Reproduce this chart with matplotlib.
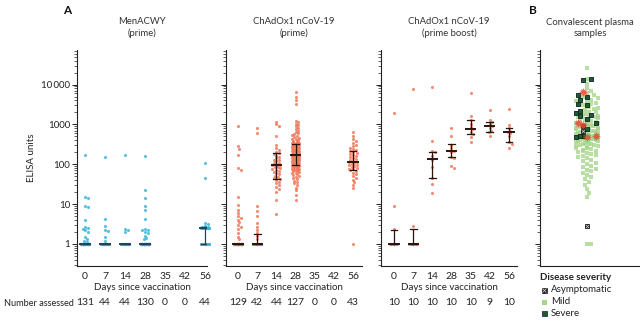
import numpy as np
import matplotlib
matplotlib.use("Agg")
import matplotlib.pyplot as plt
from matplotlib.ticker import LogLocator, NullFormatter, FixedLocator, FixedFormatter

plt.rcParams['font.family'] = ['Lato', 'DejaVu Sans']
plt.rcParams['font.size'] = 7

# ---------------- data ----------------
days = ["0", "7", "14", "28", "35", "42", "56"]

menacwy_n = [131, 44, 44, 130, 0, 0, 44]
menacwy = [
    [172, 15, 14, 9, 8.5, 4, 2.7, 2.5, 2.4, 2.2, 2.0, 1.5, 1.3, 1.2, 1.1] + [1.0] * 116,
    [155, 4.2, 2.8, 2.2, 2.1, 1.5, 1.2] + [1.0] * 37,
    [172, 2.4, 2.3, 2.0] + [1.0] * 40,
    [165, 22, 14.5, 9, 7.2, 4.3, 2.4, 2.3, 2.2, 2.0, 1.9, 1.6, 1.4, 1.3] + [1.0] * 116,
    [],
    [],
    [107, 45, 3.3, 3.1, 2.8, 2.7, 2.6, 2.6] + [2.5] * 18 + [1.0] * 18,
]
menacwy_med = [1, 1, 1, 1, np.nan, np.nan, 2.5]
menacwy_q1 = [1, 1, 1, 1, np.nan, np.nan, 1]
menacwy_q3 = [1, 1, 1, 1, np.nan, np.nan, 2.6]

prime_n = [129, 42, 44, 127, 0, 0, 43]
prime = [
    [940, 280, 245, 175, 80, 72, 15.5, 9.5, 7, 6, 5, 4.5, 4, 3.5, 3, 2.7, 2.4, 1.9,
     1.5, 1.3] + [1.0] * 109,
    [830, 600, 9, 6.8, 5, 3.4, 2.7, 2.2, 1.86, 1.6, 1.3] + [1.0] * 31,
    [1180, 1000, 900, 520, 310, 260, 230, 200, 190, 180, 165, 150, 140, 130, 125,
     118, 110, 105, 100, 97, 95, 92, 88, 84, 80, 76, 72, 68, 64, 60, 56, 52, 48,
     45, 43, 40, 37, 34, 30, 27, 24, 20, 12.7, 5.6],
    [6700, 5000, 4200, 3300, 1250, 1150, 1050, 980, 900, 820, 760, 700, 640, 600,
     560, 530, 500, 480, 460, 440, 420, 400, 390, 380, 370, 360, 350, 345, 340,
     330, 325,
     320, 310, 300, 295, 290, 280, 275, 270, 260, 255, 250, 245, 240, 235, 230,
     225, 220, 215, 210, 205, 200, 196, 192, 188, 185, 182, 180, 178, 176, 175,
     174, 173,
     172, 170, 168, 165, 162, 160, 157, 155, 152, 150, 147, 145, 142, 140, 137,
     135, 132, 130, 127, 125, 122, 120, 117, 115, 112, 110, 107, 105, 102, 100,
     98, 96,
     94, 92, 90, 88, 86, 84, 82, 80, 78, 76, 74, 72, 70, 68, 66, 64, 62, 60, 57,
     54, 51, 48, 45, 42, 39, 36, 33, 30, 26, 22, 17, 13],
    [],
    [],
    [630, 500, 420, 380, 340, 300, 280, 260, 240, 225, 217, 205, 195, 185, 175,
     165, 155, 145, 135, 128, 122, 117, 112, 107, 102, 98, 94, 90, 86, 82, 78, 75,
     72, 68, 62, 56, 50, 45, 40, 35, 30, 25, 1],
]
prime_med = [1, 1, 96, 172, np.nan, np.nan, 117]
prime_q1 = [1, 1, 44, 96, np.nan, np.nan, 72]
prime_q3 = [1, 1.8, 190, 320, np.nan, np.nan, 217]

boost_n = [10, 10, 10, 10, 10, 9, 10]
boost = [
    [1900, 9, 2.4] + [1.0] * 7,
    [7700, 2.8] + [1.0] * 8,
    [8900, 390, 215, 200, 160, 130, 85, 45, 32, 19.5],
    [830, 520, 300, 250, 220, 200, 150, 140, 91, 81],
    [6100, 1650, 1300, 1000, 850, 760, 650, 580, 480, 370],
    [2340, 1300, 1150, 1000, 920, 800, 700, 640, 520],
    [2400, 980, 810, 700, 640, 600, 500, 360, 320, 255],
]
boost_med = [1, 1, 137, 220, 760, 920, 640]
boost_q1 = [1, 1, 46, 150, 580, 640, 360]
boost_q3 = [2.25, 2.35, 208, 320, 1310, 1180, 810]

conv_mild = [26000, 14000, 10500, 8000, 7000, 6200, 5500, 5000, 4500, 4200, 3900,
             3600, 3400, 3200, 3000, 2800, 2650, 2500, 2350, 2200, 2100, 2000,
             1900, 1800, 1750, 1700, 1650, 1600, 1550, 1500, 1450, 1400, 1350,
             1300, 1250, 1200, 1150, 1100, 1060, 1020, 980, 950, 920, 890, 860,
             830, 800, 780, 760, 740, 720, 700, 680, 660, 640, 620, 600, 585, 570,
             555, 540, 525, 510, 495, 480, 465, 450, 440, 430, 420, 410, 400, 390,
             380, 370, 360, 350, 340, 330, 320, 310, 300, 290, 280, 270, 260, 250,
             240, 230, 220, 210, 200, 190, 180, 170, 160, 150, 140, 130, 120, 110,
             100, 92, 85, 78, 72, 66, 60, 54, 48, 42, 36, 30, 24, 19, 15, 1, 1]
conv_severe = [13500, 13000, 5500, 4800, 4000, 3300, 3000, 2200, 1900, 1700,
               1600, 1400, 1100, 900, 750, 520, 500, 480]
conv_asymp = [2.8, 700]
conv_star = [6700, 1100, 950, 500, 480]

# ---------------- layout ----------------
W, H = 640, 322
fig = plt.figure(figsize=(W / 100, H / 100), dpi=100)

def fx(px):
    return px / W

def fy(py):
    return 1 - py / H

bottom_px, top_px = 266, 50
panels_px = [(77, 207), (226, 362), (381, 517)]
xlims = [(-0.41, 6.1), (-0.63, 6.47), (-0.68, 6.42)]
YLIM = (0.28, 74000)
PX_PER_DEC = (bottom_px - top_px) / np.log10(YLIM[1] / YLIM[0])

axes = []
for (l, r) in panels_px:
    axes.append(fig.add_axes([fx(l), fy(bottom_px), (r - l) / W,
                              (bottom_px - top_px) / H]))
axB = fig.add_axes([fx(540), fy(bottom_px), 100 / W, (bottom_px - top_px) / H])


def swarm(vals, px_per_x, d=2.6, maxw=5.0):
    """Deterministic beeswarm offsets (in x data units)."""
    vals = np.asarray(vals, float)
    if len(vals) == 0:
        return np.array([])
    y = np.log10(vals) * PX_PER_DEC
    step = d / 2
    cands = [0.0]
    k = 1
    while k * step <= maxw:
        cands += [k * step, -k * step]
        k += 1
    placed_x, placed_y = [], []
    off = np.zeros(len(vals))
    for n, i in enumerate(np.argsort(-y, kind="stable")):
        choice = None
        px_arr = np.array(placed_x)
        py_arr = np.array(placed_y)
        for c in cands:
            if len(px_arr) == 0 or np.all((px_arr - c) ** 2 + (py_arr - y[i]) ** 2 >= d * d):
                choice = c
                break
        if choice is None:
            choice = cands[n % len(cands)]
        off[i] = choice
        placed_x.append(choice)
        placed_y.append(y[i])
    return off / px_per_x


def style_axis(ax, show_labels):
    ax.set_yscale('log')
    ax.set_ylim(*YLIM)
    for s in ('top', 'right'):
        ax.spines[s].set_visible(False)
    for s in ('left', 'bottom'):
        ax.spines[s].set_linewidth(0.8)
        ax.spines[s].set_color('#222222')
    ax.yaxis.set_minor_locator(LogLocator(base=10, subs=np.arange(2, 10), numticks=20))
    ax.yaxis.set_minor_formatter(NullFormatter())
    ax.tick_params(axis='y', which='major', length=3.5, width=0.7, colors='#222222',
                   labelsize=7, pad=1.5)
    ax.tick_params(axis='y', which='minor', length=2, width=0.5, colors='#222222')
    ax.yaxis.set_major_locator(FixedLocator([1, 10, 100, 1000, 10000]))
    if show_labels:
        ax.yaxis.set_major_formatter(FixedFormatter(["1", "10", "100", "1000",
                                                     "10\u2009000"]))
    else:
        ax.yaxis.set_major_formatter(NullFormatter())
    ax.set_facecolor('none')


def draw_group(ax, data, med, q1, q3, counts, col, bar_col, xl, px_per_x, title):
    style_axis(ax, ax is axes[0])
    for i, vals in enumerate(data):
        if not vals:
            continue
        off = swarm(vals, px_per_x)
        ax.scatter(i + off, vals, s=5, color=col, alpha=0.85, linewidths=0,
                   zorder=2, clip_on=False)
    for i in range(len(days)):
        if np.isnan(med[i]):
            continue
        ax.plot([i, i], [q1[i], q3[i]], color=bar_col, lw=0.9, zorder=3)
        for q in (q1[i], q3[i]):
            ax.plot([i - 0.18, i + 0.18], [q, q], color=bar_col, lw=0.9, zorder=3)
        ax.plot([i - 0.24, i + 0.24], [med[i], med[i]], color=bar_col, lw=1.4, zorder=3)
    ax.set_xlim(*xl)
    ax.set_xticks(range(len(days)))
    ax.set_xticklabels(days)
    ax.tick_params(axis='x', length=0, labelsize=7.5, pad=4, colors='#222222')
    ax.set_xlabel("Days since vaccination", fontsize=7, labelpad=2, color='#222222')
    for i, c in enumerate(counts):
        ax.text(i, -0.171, str(c), transform=ax.get_xaxis_transform(),
                ha='center', va='center', fontsize=7.5, color='#222222')
    ax.set_title(title, fontsize=6.8, color='#333333', pad=10, linespacing=1.3)


cyan = '#3cb6d6'
orange = '#f0795a'
draw_group(axes[0], menacwy, menacwy_med, menacwy_q1, menacwy_q3, menacwy_n,
           cyan, '#18465e', xlims[0], 19.67, "MenACWY\n(prime)")
draw_group(axes[1], prime, prime_med, prime_q1, prime_q3, prime_n,
           orange, '#2a120c', xlims[1], 19.17, "ChAdOx1 nCoV-19\n(prime)")
draw_group(axes[2], boost, boost_med, boost_q1, boost_q3, boost_n,
           orange, '#2a120c', xlims[2], 19.17, "ChAdOx1 nCoV-19\n(prime boost)")
axes[0].set_ylabel("ELISA units", fontsize=7, labelpad=4, color='#222222')

# ---------------- convalescent plasma ----------------
style_axis(axB, False)
axB.set_xlim(-47, 53)
axB.set_xticks([])
axB.set_title("Convalescent plasma\nsamples", fontsize=6.8, color='#333333',
              pad=10, linespacing=1.3)

groups = [("mild", conv_mild), ("severe", conv_severe), ("asymp", conv_asymp),
          ("star", conv_star)]
all_vals = np.concatenate([np.asarray(v, float) for _, v in groups])
all_off = swarm(all_vals, 1.0, d=4.4, maxw=12)
start = 0
offs = {}
for name, v in groups:
    offs[name] = all_off[start:start + len(v)]
    start += len(v)

mild_col = '#a6d68c'
sev_col = '#1e5b3d'
axB.scatter(offs["mild"], conv_mild, s=9, marker='s', color=mild_col, alpha=0.8,
            linewidths=0, zorder=2)
axB.scatter(offs["severe"], conv_severe, s=11, marker='s', color=sev_col,
            edgecolors='#0b2016', linewidths=0.6, zorder=3)
axB.scatter(offs["asymp"], conv_asymp, s=11, marker='s', color='#222222',
            edgecolors='#111111', linewidths=0.6, zorder=3)
axB.scatter(offs["asymp"], conv_asymp, s=6, marker='x', color='#dddddd',
            linewidths=0.5, zorder=4)
axB.scatter(offs["star"], conv_star, s=45, marker=(12, 1, 0), color='#e8442e',
            linewidths=0, alpha=0.85, zorder=4)

# ---------------- legend ----------------
fig.text(fx(540), fy(277), "Disease severity", fontsize=7, fontweight='bold',
         ha='left', va='center', color='#222222')
leg_rows = [("Asymptomatic", fy(290)), ("Mild", fy(302)), ("Severe", fy(313))]
for label, yy in leg_rows:
    fig.text(fx(551), yy, label, fontsize=7, ha='left', va='center', color='#222222')
fig.add_artist(plt.Line2D([fx(544)], [fy(290)], marker='s', ms=3.6,
                          color='#222222', mec='#111111', mew=0.5, ls='none'))
fig.add_artist(plt.Line2D([fx(544)], [fy(290)], marker='x', ms=2.4,
                          color='#dddddd', mew=0.5, ls='none'))
fig.add_artist(plt.Line2D([fx(544)], [fy(302)], marker='s', ms=3.6,
                          color=mild_col, mew=0, ls='none'))
fig.add_artist(plt.Line2D([fx(544)], [fy(313)], marker='s', ms=3.6,
                          color=sev_col, mec='#0b2016', mew=0.5, ls='none'))

# ---------------- annotations ----------------
fig.text(fx(4), fy(303), "Number assessed", fontsize=6.6, ha='left', va='center',
         color='#222222')
fig.text(fx(67), fy(11), "A", fontsize=8.5, fontweight='bold', ha='center',
         va='center', color='#111111')
fig.text(fx(533), fy(11), "B", fontsize=8.5, fontweight='bold', ha='center',
         va='center', color='#111111')

fig.savefig("out.png", dpi=100, facecolor='white')
